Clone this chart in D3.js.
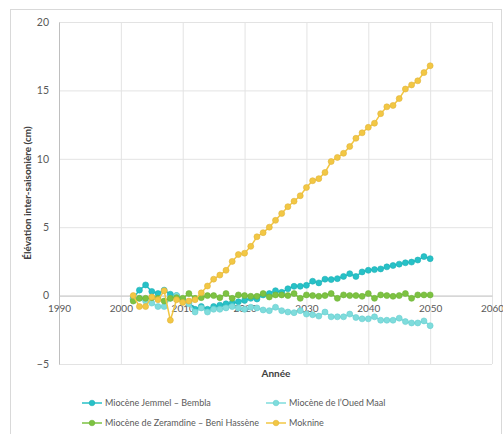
<!DOCTYPE html>
<html>
<head>
<meta charset="utf-8">
<script src="https://cdn.jsdelivr.net/npm/d3@7"></script>
<style>
  html, body { margin: 0; padding: 0; background: #fff; }
  svg { display: block; font-family: Lato, "Open Sans", sans-serif; }
</style>
</head>
<body>
<svg id="chart" width="503" height="434"></svg>
<script>
// Années de la série (2002–2050)
const years = d3.range(2002, 2051);

// Élévation inter-saisonière (cm) par aquifère
const jemmelBembla = [
  -0.2, 0.4, 0.78, 0.3, 0.15, 0.4, 0.1, 0.0, -0.3, -0.5,
  -1.0, -0.8, -1.0, -0.8, -0.7, -0.6, -0.55, -0.45, -0.35, -0.2,
  -0.25, 0.05, 0.15, 0.36, 0.24, 0.5, 0.68, 0.68, 0.75, 1.05,
  0.93, 1.2, 1.17, 1.24, 1.4, 1.6, 1.4, 1.73, 1.85, 1.9,
  1.95, 2.1, 2.2, 2.3, 2.4, 2.45, 2.6, 2.85, 2.7
];
const ouedMaal = [
  -0.3, -0.2, -0.4, -0.55, -0.8, -0.8, -0.2, 0.0, -0.4, -0.6,
  -1.2, -0.9, -1.2, -1.0, -1.0, -0.9, -0.8, -0.9, -1.0, -0.85,
  -0.9, -1.05, -1.1, -0.85, -1.1, -1.2, -1.25, -1.1, -1.35, -1.4,
  -1.5, -1.2, -1.55, -1.55, -1.55, -1.35, -1.6, -1.7, -1.7, -1.55,
  -1.8, -1.8, -1.8, -1.65, -1.9, -2.0, -2.0, -1.85, -2.2
];
const zeramdineBeniHassene = [
  -0.4, -0.2, -0.2, -0.15, -0.2, -0.4, -0.2, -0.15, -0.2, 0.15,
  -0.2, -0.15, 0.0, 0.0, -0.15, 0.15, -0.2, 0.05, 0.0, -0.05,
  -0.05, 0.15, -0.1, 0.05, 0.05, 0.0, 0.15, -0.2, 0.05, 0.0,
  -0.05, 0.0, 0.15, -0.2, 0.05, 0.0, 0.0, -0.05, 0.15, -0.2,
  0.05, 0.0, -0.05, 0.0, 0.15, -0.2, 0.05, 0.05, 0.05
];
const moknine = [
  0.0, -0.8, -0.8, -0.1, -0.3, 0.35, -1.8, -0.3, -0.5, -0.4,
  -0.3, 0.2, 0.7, 1.2, 1.5, 1.85, 2.5, 3.0, 3.1, 3.6,
  4.3, 4.6, 5.0, 5.5, 6.0, 6.5, 6.9, 7.3, 7.9, 8.4,
  8.55, 9.0, 9.8, 10.1, 10.4, 10.9, 11.5, 11.9, 12.3, 12.6,
  13.3, 13.8, 13.9, 14.4, 15.1, 15.4, 15.7, 16.3, 16.8
];

const seriesNames = [
  "Miocène Jemmel – Bembla",
  "Miocène de l’Oued Maal",
  "Miocène de Zeramdine – Beni Hassène",
  "Moknine"
];
const seriesValues = [jemmelBembla, ouedMaal, zeramdineBeniHassene, moknine];
const seriesColors = ["#27c1c7", "#7fdcdc", "#7dc242", "#f2c744"];
const seriesStrokes = ["#1fb0b6", "#66cfd0", "#6db338", "#e0b43a"];

const xTicks = [1990, 2000, 2010, 2020, 2030, 2040, 2050, 2060];
const yTicks = [-5, 0, 5, 10, 15, 20];

const svg = d3.select("#chart");

// cadre du graphique
svg.append("rect")
  .attr("x", 10.5).attr("y", 9.5)
  .attr("width", 491).attr("height", 430)
  .attr("fill", "#fff").attr("stroke", "#d9d9d9");

const plot = { left: 59, right: 492, top: 22, bottom: 364 };

const x = d3.scaleLinear().domain([1990, 2060]).range([plot.left, plot.right]);
const y = d3.scaleLinear().domain([-5, 20]).range([plot.bottom, plot.top]);

// grille verticale
svg.append("g")
  .attr("transform", `translate(0,${plot.bottom})`)
  .call(d3.axisBottom(x).tickValues(xTicks).tickSize(-(plot.bottom - plot.top)).tickFormat(""))
  .call(g => g.select(".domain").remove())
  .call(g => g.selectAll("line").attr("stroke", "#e3e3e3"));

// grille horizontale
svg.append("g")
  .attr("transform", `translate(${plot.left},0)`)
  .call(d3.axisLeft(y).tickValues(yTicks).tickSize(-(plot.right - plot.left)).tickFormat(""))
  .call(g => g.select(".domain").remove())
  .call(g => g.selectAll("line").attr("stroke", "#e3e3e3"));

// axe vertical et étiquettes
svg.append("g")
  .attr("transform", `translate(${plot.left},0)`)
  .call(d3.axisLeft(y).tickValues(yTicks).tickSize(0).tickPadding(10))
  .call(g => g.select(".domain").attr("stroke", "#bfbfbf"))
  .call(g => g.selectAll("text")
    .attr("fill", "#595959").style("font-size", "10.5px")
    .style("font-family", "Lato, sans-serif"));

// axe horizontal passant par zéro
svg.append("g")
  .attr("transform", `translate(0,${y(0)})`)
  .call(d3.axisBottom(x).tickValues(xTicks).tickSize(0).tickPadding(9).tickFormat(d3.format("d")))
  .call(g => g.select(".domain").attr("stroke", "#c8c8c8"))
  .call(g => g.selectAll("text")
    .attr("fill", "#595959").style("font-size", "10px")
    .style("font-family", "Lato, sans-serif"));

// titres des axes
svg.append("text")
  .attr("transform", `translate(31,${(plot.top + plot.bottom) / 2}) rotate(-90)`)
  .attr("text-anchor", "middle")
  .attr("fill", "#404040")
  .style("font-size", "10px").style("font-weight", "bold")
  .text("Élévation inter-saisonière (cm)");

svg.append("text")
  .attr("x", 276).attr("y", 377)
  .attr("text-anchor", "middle")
  .attr("fill", "#404040")
  .style("font-size", "10px").style("font-weight", "bold")
  .text("Année");

// séries
const line = d3.line().x((d, i) => x(years[i])).y(d => y(d));

seriesValues.forEach((vals, s) => {
  const g = svg.append("g");
  g.append("path")
    .datum(vals)
    .attr("d", line)
    .attr("fill", "none")
    .attr("stroke", seriesColors[s])
    .attr("stroke-width", 1.5);
  g.selectAll("circle")
    .data(vals)
    .join("circle")
    .attr("cx", (d, i) => x(years[i]))
    .attr("cy", d => y(d))
    .attr("r", 3)
    .attr("fill", seriesColors[s])
    .attr("stroke", seriesStrokes[s])
    .attr("stroke-width", 0.6);
});

// légende
const legendPos = [
  { lx: 82, ty: 403 },
  { lx: 266, ty: 403 },
  { lx: 82, ty: 423 },
  { lx: 266, ty: 423 }
];
seriesNames.forEach((name, s) => {
  const p = legendPos[s];
  const g = svg.append("g");
  g.append("line")
    .attr("x1", p.lx).attr("x2", p.lx + 20)
    .attr("y1", p.ty).attr("y2", p.ty)
    .attr("stroke", seriesColors[s]).attr("stroke-width", 1.5);
  g.append("circle")
    .attr("cx", p.lx + 10).attr("cy", p.ty).attr("r", 2.8)
    .attr("fill", seriesColors[s]).attr("stroke", seriesStrokes[s]).attr("stroke-width", 0.6);
  g.append("text")
    .attr("x", p.lx + 23).attr("y", p.ty)
    .attr("dy", "0.35em")
    .attr("fill", "#595959")
    .style("font-size", "9px")
    .text(name);
});
</script>
</body>
</html>
